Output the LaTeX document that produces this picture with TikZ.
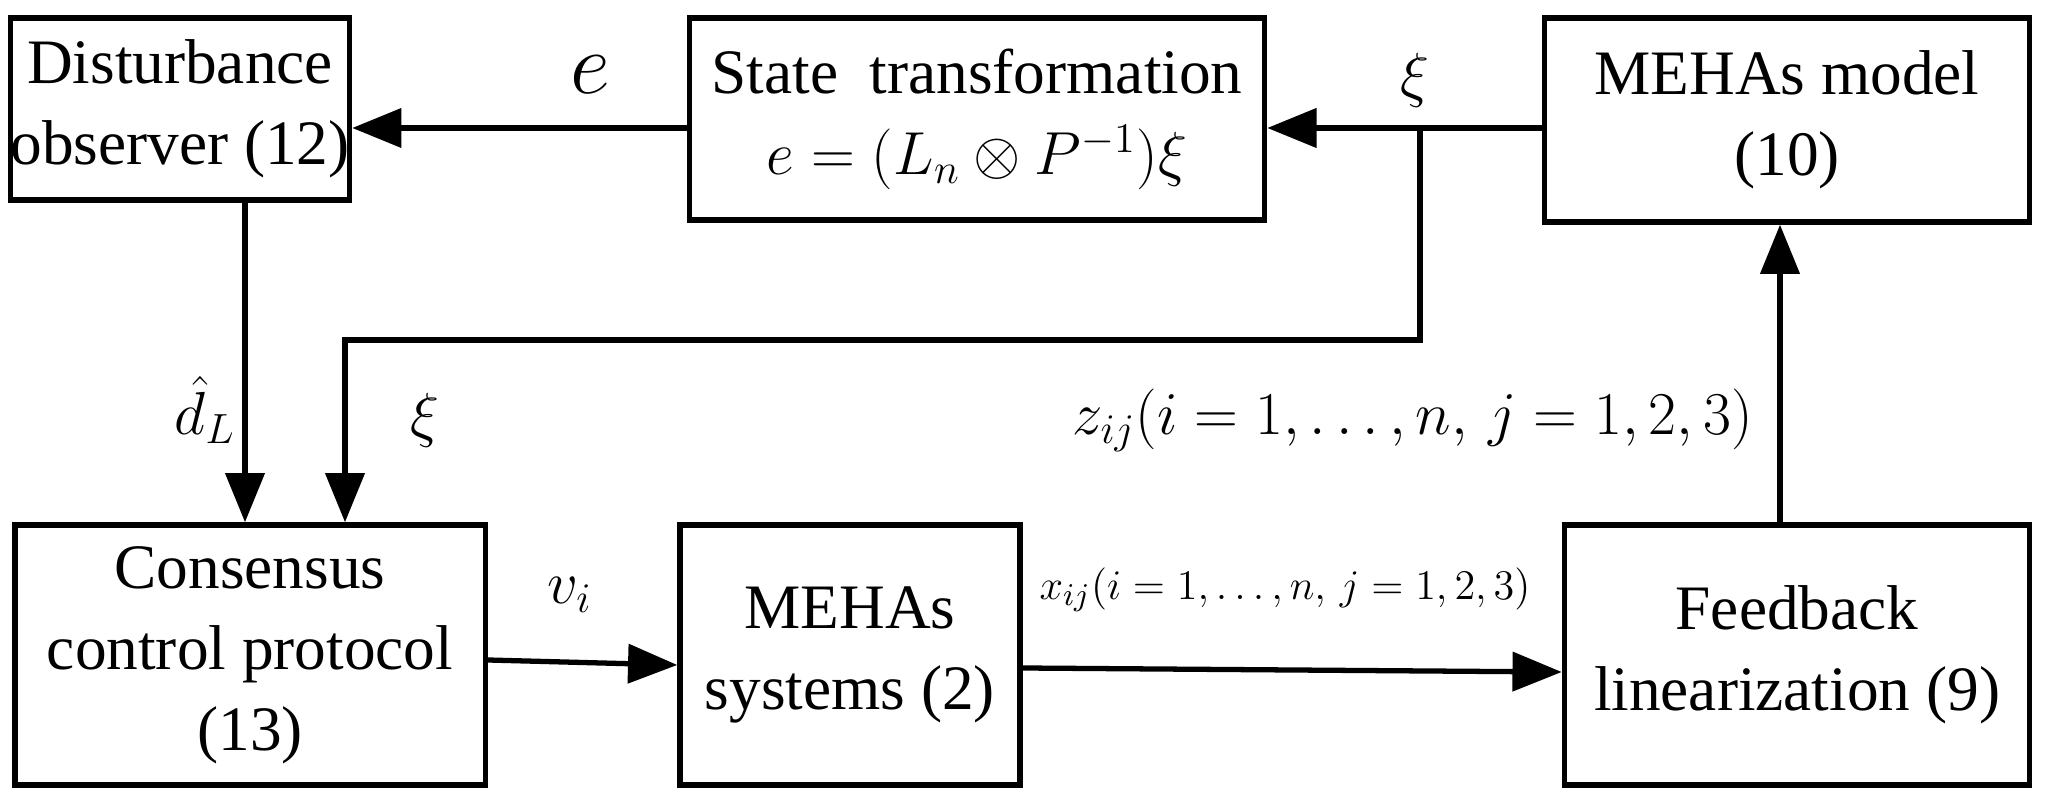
\documentclass[tikz,border=0pt]{standalone}
\usepackage{fontspec}
\setmainfont{Liberation Serif}
\usetikzlibrary{positioning,arrows.meta}
\begin{document}
\begin{tikzpicture}[x=0.01cm,y=-0.01cm,
  blk/.style={draw,line width=1.5pt,align=center,font=\fontsize{18}{23}\selectfont,inner sep=0pt},
  con/.style={line width=1.5pt,-{Triangle[length=14pt,width=11pt]}},
  lbl/.style={font=\fontsize{18}{23}\selectfont}]
\useasboundingbox (0,0) rectangle (2048,795);
% boxes at pixel positions
\node[blk,minimum width=3.3cm,minimum height=1.82cm] (dob) at (180,109) {Disturbance\\observer (12)};
\node[blk,minimum width=5.75cm,minimum height=2.02cm] (st) at (977,119) {State\ \ transformation\\$e=(L_n\otimes P^{-1})\xi$};
\node[blk,minimum width=4.85cm,minimum height=2.04cm] (mm) at (1787,120) {MEHAs model\\(10)};
\node[blk,minimum width=4.7cm,minimum height=2.6cm] (cc) at (250,655) {Consensus\\control protocol\\(13)};
\node[blk,minimum width=3.4cm,minimum height=2.6cm] (ms) at (850,655) {MEHAs\\systems (2)};
\node[blk,minimum width=4.65cm,minimum height=2.6cm] (fl) at (1797,655) {Feedback\\linearization (9)};
% named anchors
\coordinate (br) at (1420,128);
% connectors
\draw[con] (st.west |- 0,128) -- (dob.east |- 0,128);
\draw[con] (mm.west |- 0,128) -- (st.east |- 0,128);
\draw[con] (br) -- (1420,340) -- (345,340) -- (345,0 |- cc.north);
\draw[con] (245,0 |- dob.south) -- (245,0 |- cc.north);
\draw[con] (cc.east |- 0,660) -- (ms.west |- 0,665);
\draw[con] (ms.east |- 0,668) -- (fl.west |- 0,672);
\draw[con] (1780,0 |- fl.north) -- (1780,0 |- mm.south);
% labels
\node[font=\fontsize{28}{32}\selectfont] (le) at (590,75) {$e$};
\node[lbl] (lx1) at (1415,80) {$\xi$};
\node[lbl] (lx2) at (425,420) {$\xi$};
\node[lbl] (ld) at (205,410) {$\hat{d}_{L}$};
\node[lbl] (lv) at (570,595) {$v_i$};
\node[font=\fontsize{13}{16}\selectfont] (lxij) at (1285,590) {$x_{ij}(i=1,\ldots,n,\,j=1,2,3)$};
\node[lbl,anchor=east] (lz) at (1765,420) {$z_{ij}(i=1,\ldots,n,\,j=1,2,3)$};
\end{tikzpicture}
\end{document}
